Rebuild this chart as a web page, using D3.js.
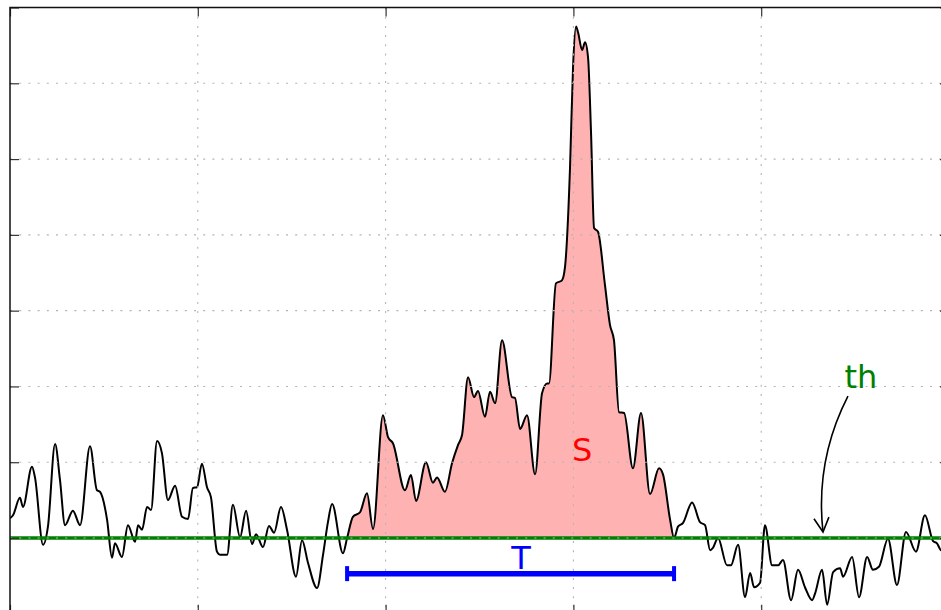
<!DOCTYPE html>
<html><head><meta charset="utf-8">
<script src="https://cdn.jsdelivr.net/npm/d3@7"></script>
<style>html,body{margin:0;padding:0;background:#fff;overflow:hidden}</style>
</head><body><svg id="c" width="941" height="610"></svg>
<script>
// ---- data ----
const time = [0,0.016,0.053,0.069,0.117,0.133,0.176,0.202,0.240,0.266,0.293,0.335,0.373,0.426,0.463,0.479,0.517,0.543,0.559,0.596,
0.628,0.666,0.682,0.703,0.730,0.751,0.783,0.809,0.841,0.879,0.916,0.948,0.974,0.996,1.022,1.049,1.070,1.102,1.118,1.156,
1.187,1.225,1.257,1.289,1.310,1.347,1.379,1.406,1.443,1.475,1.523,1.555,1.587,1.635,1.667,1.693,1.715,1.773,1.795,1.826,
1.864,1.901,1.933,1.986,2.013,2.039,2.103,2.135,2.162,2.215,2.252,2.274,2.316,2.354,2.386,2.407,2.439,2.471,2.492,2.529,
2.556,2.583,2.620,2.673,2.689,2.716,2.753,2.796,2.833,2.860,2.870,2.907,2.939,2.955,2.982,2.998,3.014,3.025,3.046,3.062,
3.078,3.094,3.110,3.131,3.168,3.195,3.216,3.243,3.270,3.317,3.360,3.408,3.456,3.477,3.515,3.536,3.557,3.584,3.632,3.674,
3.701,3.728,3.743,3.770,3.818,3.839,3.877,3.914,3.941,3.962,3.994,4.020,4.058,4.090,4.116,4.159,4.196,4.233,4.271,4.287,
4.324,4.351,4.383,4.420,4.436,4.484,4.521,4.564,4.595,4.627,4.675,4.723,4.771,4.824,4.872,4.915,4.936,4.958,5.000];
const signal = [0.26,0.30,0.53,0.41,0.94,0.80,-0.09,0.15,1.24,0.77,0.17,0.36,0.17,1.21,0.63,0.61,0.24,-0.26,-0.07,-0.25,
0.17,-0.05,0.17,0.11,0.41,0.37,1.28,1.12,0.50,0.69,0.28,0.25,0.66,0.67,0.98,0.67,0.54,-0.18,-0.22,-0.22,
0.44,0.01,0.36,-0.08,0.05,-0.12,0.16,0.07,0.41,0.11,-0.51,-0.03,-0.33,-0.66,-0.22,0.21,0.45,-0.20,0.00,0.28,
0.34,0.59,0.12,1.62,1.33,1.25,0.63,0.83,0.49,1.00,0.73,0.80,0.61,0.99,1.23,1.36,2.12,1.86,1.94,1.60,
1.93,1.78,2.61,1.86,1.85,1.44,1.62,0.84,1.91,2.04,2.04,3.36,3.40,3.57,4.89,6.21,6.75,6.67,6.44,6.54,
6.34,5.34,4.09,4.04,3.34,2.81,2.61,1.66,1.65,0.92,1.65,0.58,0.92,0.84,0.24,0.00,0.15,0.20,0.47,0.21,
0.17,-0.16,-0.13,0.00,-0.36,-0.36,-0.09,-0.78,-0.46,-0.65,-0.59,0.17,-0.36,-0.36,-0.29,-0.82,-0.42,-0.65,-0.82,-0.73,
-0.42,-0.88,-0.45,-0.40,-0.51,-0.25,-0.78,-0.25,-0.42,-0.38,-0.01,-0.62,0.08,-0.18,0.30,-0.04,-0.07,-0.16,-0.13];
const threshold = 0;
const windowT = [1.795, 3.536];
const xTicks = [0,1,2,3,4,5];
const yTicks = [-1,0,1,2,3,4,5,6,7];
const labelS = "S", labelT = "T", labelTh = "th";

// ---- chart ----
const svg = d3.select("#c");
const L = 10, R = 949, T = 7.5, B = 613.8;
const x = d3.scaleLinear().domain([0,5]).range([L,R]);
const y = d3.scaleLinear().domain([-1,7]).range([B,T]);
const pts = time.map((t,i)=>[t, signal[i]]);
const fillPts = pts.filter(p => p[0] >= windowT[0]-1e-9 && p[0] <= windowT[1]+1e-9);

svg.append("defs").append("clipPath").attr("id","clip")
  .append("rect").attr("x",L).attr("y",T).attr("width",R-L).attr("height",B-T);
const g = svg.append("g").attr("clip-path","url(#clip)");

// fill S
g.append("path").datum(fillPts)
  .attr("d", d3.area().x(d=>x(d[0])).y0(y(threshold)).y1(d=>y(Math.max(d[1],threshold))).curve(d3.curveMonotoneX))
  .attr("fill","rgb(255,178,178)").attr("stroke","none");

// signal
g.append("path").datum(pts)
  .attr("d", d3.line().x(d=>x(d[0])).y(d=>y(d[1])).curve(d3.curveMonotoneX))
  .attr("fill","none").attr("stroke","#000").attr("stroke-width",2).attr("stroke-linejoin","round");

// threshold line
g.append("line").attr("x1",L).attr("x2",R).attr("y1",y(threshold)).attr("y2",y(threshold))
  .attr("stroke","#008000").attr("stroke-width",3.5);

// grid
const grid = g.append("g").attr("stroke","#b4b4b4").attr("stroke-width",1.1).attr("stroke-dasharray","2,7.2");
grid.selectAll(".gx").data(xTicks.slice(1,-1)).join("line")
  .attr("x1",d=>x(d)).attr("x2",d=>x(d)).attr("y1",T).attr("y2",B);
grid.selectAll(".gy").data(yTicks.slice(1,-1)).join("line")
  .attr("y1",d=>y(d)).attr("y2",d=>y(d)).attr("x1",L).attr("x2",R);

// ticks (inward)
function styleAxis(sel){ sel.select(".domain").remove(); sel.selectAll(".tick line").attr("stroke","#333").attr("stroke-width",1.2); sel.selectAll("text").remove(); }
svg.append("g").attr("transform",`translate(${L},0)`).call(d3.axisLeft(y).tickValues(yTicks).tickSize(-9).tickFormat("")).call(styleAxis);
svg.append("g").attr("transform",`translate(${R},0)`).call(d3.axisRight(y).tickValues(yTicks).tickSize(-9).tickFormat("")).call(styleAxis);
svg.append("g").attr("transform",`translate(0,${T})`).call(d3.axisTop(x).tickValues(xTicks).tickSize(-9).tickFormat("")).call(styleAxis);
svg.append("g").attr("transform",`translate(0,${B})`).call(d3.axisBottom(x).tickValues(xTicks).tickSize(-9).tickFormat("")).call(styleAxis);

// spines
svg.append("rect").attr("x",L).attr("y",T).attr("width",R-L).attr("height",B-T)
  .attr("fill","none").attr("stroke","#111").attr("stroke-width",1.5);

// T bar
const by = y(-0.47);
const tb = svg.append("g").attr("stroke","#0000ff");
tb.append("line").attr("x1",x(windowT[0])).attr("x2",x(windowT[1])).attr("y1",by).attr("y2",by).attr("stroke-width",5.5);
tb.selectAll(".cap").data(windowT).join("line")
  .attr("x1",d=>x(d)).attr("x2",d=>x(d)).attr("y1",by-7.5).attr("y2",by+7.5).attr("stroke-width",4);

// labels
const font = "DejaVu Sans, Liberation Sans, sans-serif";
svg.append("text").attr("x",x(2.721)).attr("y",y(-0.41)).attr("text-anchor","middle")
  .attr("font-family",font).attr("font-size",32).attr("fill","#0000ff").text(labelT);
svg.append("text").attr("x",x(3.046)).attr("y",y(1.02)).attr("text-anchor","middle")
  .attr("font-family",font).attr("font-size",32).attr("fill","#ff0000").text(labelS);
svg.append("text").attr("x",x(4.531)).attr("y",y(1.98)).attr("text-anchor","middle")
  .attr("font-family",font).attr("font-size",32).attr("fill","#008000").text(labelTh);

// arrow (arc3-like curve)
const p1 = [x(4.462), y(1.873)], p2 = [x(4.329), y(0.08)];
const rad = -0.15;
const mx = (p1[0]+p2[0])/2, my = (p1[1]+p2[1])/2, dx = p2[0]-p1[0], dy = p2[1]-p1[1];
const c = [mx + rad*dy, my - rad*dx];
const arr = svg.append("g").attr("stroke","#000").attr("stroke-width",1.6).attr("fill","none");
arr.append("path").attr("d",`M${p1[0]},${p1[1]} Q${c[0]},${c[1]} ${p2[0]},${p2[1]}`);
const ang = Math.atan2(p2[1]-c[1], p2[0]-c[0]);
const hl = 16, ha = 28*Math.PI/180;
const w1 = [p2[0]-hl*Math.cos(ang-ha), p2[1]-hl*Math.sin(ang-ha)];
const w2 = [p2[0]-hl*Math.cos(ang+ha), p2[1]-hl*Math.sin(ang+ha)];
arr.append("path").attr("d",`M${w1[0]},${w1[1]} L${p2[0]},${p2[1]} L${w2[0]},${w2[1]}`);
</script></body></html>
